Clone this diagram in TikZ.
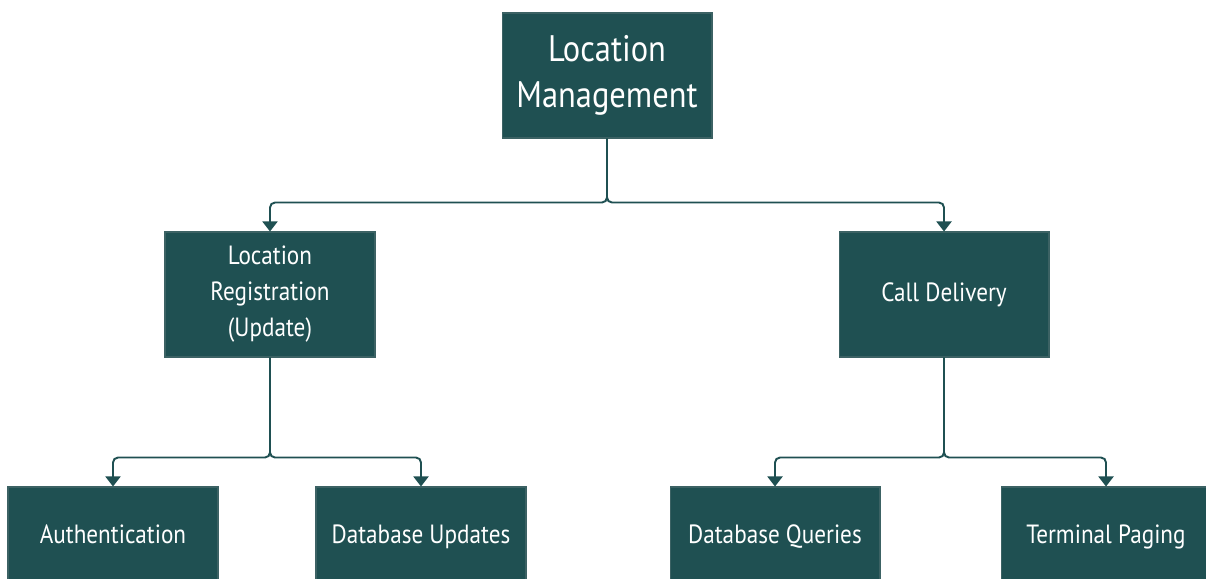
\documentclass[tikz,border=0pt]{standalone}
\usepackage{fontspec}
\setmainfont{PT Sans}[FakeStretch=0.88]
\usetikzlibrary{arrows.meta}

\definecolor{lmteal}{RGB}{31,80,82}
\definecolor{lmedge}{RGB}{60,98,100}

\begin{document}
\begin{tikzpicture}[
    x = 0.02cm, y = -0.02cm,
      block/.style={draw=lmedge, line width=0.6pt, fill=lmteal, text=white, rectangle, minimum width=4.2cm, minimum height=2.5cm, inner sep=0pt, align=center, font=\fontsize{15}{20.5}\selectfont},
      rootblock/.style={block, font=\fontsize{21}{26}\selectfont},
      leafblock/.style={block, minimum height=2.08cm, text height=1.6ex, text depth=0.5ex},
      arrow/.style={-{Triangle[width=0.3cm, length=0.2cm]}, line width=1.1pt, color=lmteal, rounded corners=0.1cm}
  ]
      \useasboundingbox (0,0) rectangle (1206,578);
      \clip (0,0) rectangle (1206,578);

      % Root
      \node (manage) at (607, 75.5) [rootblock] {Location\\Management};

      % Second level
      \node (register) at (270, 294.5) [block] {Location\\Registration\\(Update)};
      \node (delivery) at (944, 294.5) [block] {Call Delivery};

      % Third level
      \node (auth) at (113, 539) [leafblock] {Authentication};
      \node (dbupdate) at (421, 539) [leafblock] {Database Updates};
      \node (dbquery) at (775, 539) [leafblock] {Database Queries};
      \node (paging) at (1106, 539) [leafblock] {Terminal Paging};

      % Arrows
      \draw[arrow] (manage.south) -- ++(0,64) -| (register.north);
      \draw[arrow] (manage.south) -- ++(0,64) -| (delivery.north);
      \draw[arrow] (register.south) -- ++(0,100) -| (auth.north);
      \draw[arrow] (register.south) -- ++(0,100) -| (dbupdate.north);
      \draw[arrow] (delivery.south) -- ++(0,100) -| (dbquery.north);
      \draw[arrow] (delivery.south) -- ++(0,100) -| (paging.north);
  \end{tikzpicture}
\end{document}
